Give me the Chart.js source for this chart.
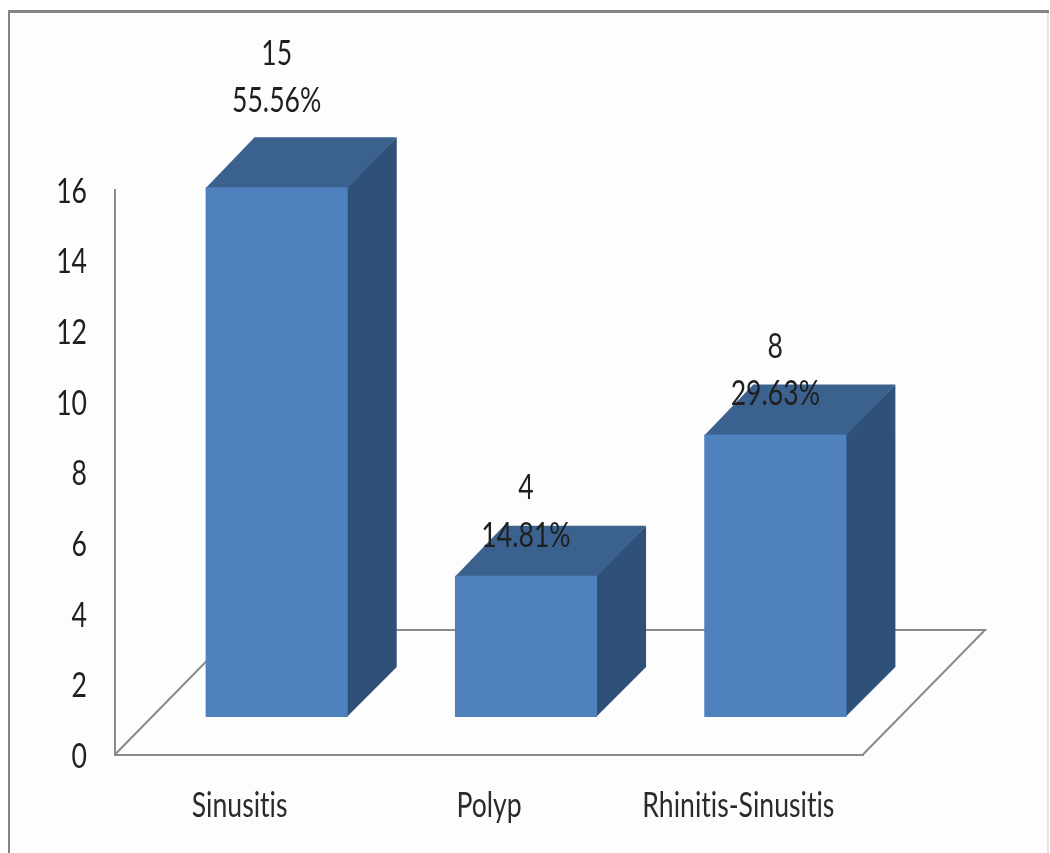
<!DOCTYPE html>
<html>
<head>
<meta charset="utf-8">
<title>Diagnosis chart</title>
<script src="https://cdn.jsdelivr.net/npm/chart.js@4"></script>
<style>
    html, body { margin: 0; padding: 0; background: #fff; }
    canvas { display: block; }
</style>
</head>
<body>
<canvas id="diagnosis-chart" width="1050" height="853"></canvas>
<script>
// Chart data
const categories = ['Sinusitis', 'Polyp', 'Rhinitis-Sinusitis'];
const counts = [15, 4, 8];
const percentLabels = ['55.56%', '14.81%', '29.63%'];
const yTicks = [0, 2, 4, 6, 8, 10, 12, 14, 16];

// Fonts and colours
const labelFont = '35px Lato, "Open Sans", sans-serif';
const labelSqueeze = 0.76;
const axisColor = '#8a8a8a';
const frontColor = '#4f81bd';
const topColor = '#3b618f';
const sideColor = '#2f5078';

// Bars stand part way into the floor, the floor runs further back
const barShift = { x: 37, y: 37.5 };
const barDepth = { x: 49, y: 50 };
const floorDepth = { x: 122, y: 124.5 };

// All labels use the same tall, narrow lettering
function drawLabel(ctx, text, x, y, align, color) {
    ctx.save();
    ctx.translate(x, y);
    ctx.scale(labelSqueeze, 1);
    ctx.font = labelFont;
    // keeps "ti" as two separate letters
    ctx.textRendering = 'optimizeSpeed';
    ctx.fillStyle = color;
    ctx.textAlign = align;
    ctx.textBaseline = 'middle';
    ctx.fillText(text, 0, 0);
    ctx.restore();
}

// Page background and the thin frame round the chart
const framePlugin = {
    id: 'frame',
    beforeDraw(chart) {
        const ctx = chart.ctx;
        ctx.save();
        ctx.fillStyle = '#fff';
        ctx.fillRect(0, 0, 1050, 853);
        ctx.fillStyle = '#fdfdfd';
        ctx.fillRect(10, 13, 1037, 840);
        ctx.fillStyle = '#e6e6e6';
        ctx.fillRect(1047, 13, 2, 840);
        ctx.fillStyle = '#858585';
        ctx.fillRect(8, 10, 1041, 3);
        ctx.fillRect(8, 10, 2, 843);
        ctx.restore();
    }
};

// Floor outline behind the bars
const floorPlugin = {
    id: 'floor',
    beforeDatasetsDraw(chart) {
        const { ctx, chartArea } = chart;
        ctx.save();
        ctx.strokeStyle = axisColor;
        ctx.lineWidth = 2;
        ctx.beginPath();
        ctx.moveTo(chartArea.left, chartArea.bottom);
        ctx.lineTo(chartArea.left + floorDepth.x, chartArea.bottom - floorDepth.y);
        ctx.lineTo(chartArea.right + floorDepth.x, chartArea.bottom - floorDepth.y);
        ctx.lineTo(chartArea.right, chartArea.bottom);
        ctx.stroke();
        ctx.restore();
    }
};

function fillFace(ctx, color, points) {
    ctx.fillStyle = color;
    ctx.beginPath();
    points.forEach((p, i) => i ? ctx.lineTo(p[0], p[1]) : ctx.moveTo(p[0], p[1]));
    ctx.closePath();
    ctx.fill();
}

// Moves the library's bars onto the floor and adds their top and side faces
const depthPlugin = {
    id: 'depth',
    beforeDatasetDraw(chart, args) {
        const ctx = chart.ctx;
        ctx.save();
        ctx.translate(barShift.x, -barShift.y);
        args.meta.data.forEach(bar => {
            const left = bar.x - bar.width / 2;
            const right = bar.x + bar.width / 2;
            // faces run 1px under the front so no seam shows
            fillFace(ctx, sideColor, [
                [right - 1, bar.y],
                [right + barDepth.x, bar.y - barDepth.y],
                [right + barDepth.x, bar.base - barDepth.y],
                [right - 1, bar.base]
            ]);
            fillFace(ctx, topColor, [
                [left, bar.y + 1],
                [left + barDepth.x, bar.y - barDepth.y],
                [right + barDepth.x, bar.y - barDepth.y],
                [right, bar.y + 1]
            ]);
        });
    },
    afterDatasetDraw(chart) {
        chart.ctx.restore();
    }
};

// Axis labels, then the count and percentage written over each bar
const labelPlugin = {
    id: 'labels',
    afterDatasetsDraw(chart) {
        const ctx = chart.ctx;
        const { x: xScale, y: yScale } = chart.scales;

        yScale.ticks.forEach(tick => {
            drawLabel(ctx, String(tick.value), 87, yScale.getPixelForValue(tick.value) + 2, 'right', '#1f1f1f');
        });
        categories.forEach((name, i) => {
            drawLabel(ctx, name, xScale.getPixelForValue(i), 806, 'center', '#2b2b2b');
        });

        chart.getDatasetMeta(0).data.forEach((bar, i) => {
            // the tallest bar's label is lifted clear of its top face
            const lift = i === 0 ? 46 : 0;
            const x = bar.x + barShift.x;
            const y = bar.y - barShift.y - 40.5 - lift;
            drawLabel(ctx, percentLabels[i], x, y, 'center', '#1f1f1f');
            drawLabel(ctx, String(counts[i]), x, y - 47.5, 'center', '#1f1f1f');
        });
    }
};

new Chart(document.getElementById('diagnosis-chart').getContext('2d'), {
    type: 'bar',
    data: {
        labels: categories,
        datasets: [{
            data: counts,
            backgroundColor: frontColor,
            borderWidth: 0,
            barPercentage: 0.57,
            categoryPercentage: 1,
            clip: false
        }]
    },
    plugins: [framePlugin, floorPlugin, depthPlugin, labelPlugin],
    options: {
        responsive: false,
        animation: false,
        layout: { padding: { left: 0, top: 189.5, right: 187, bottom: 0 } },
        plugins: {
            legend: { display: false },
            tooltip: { enabled: false }
        },
        scales: {
            x: {
                afterFit(scale) { scale.height = 98.5; },
                grid: { display: false, drawTicks: false },
                border: { display: true, color: axisColor, width: 2 },
                ticks: { display: false }
            },
            y: {
                min: 0,
                max: 16,
                afterFit(scale) { scale.width = 115; },
                afterBuildTicks(scale) { scale.ticks = yTicks.map(value => ({ value })); },
                grid: { display: false, drawTicks: false },
                border: { display: true, color: axisColor, width: 2 },
                ticks: { display: false }
            }
        }
    }
});
</script>
</body>
</html>
